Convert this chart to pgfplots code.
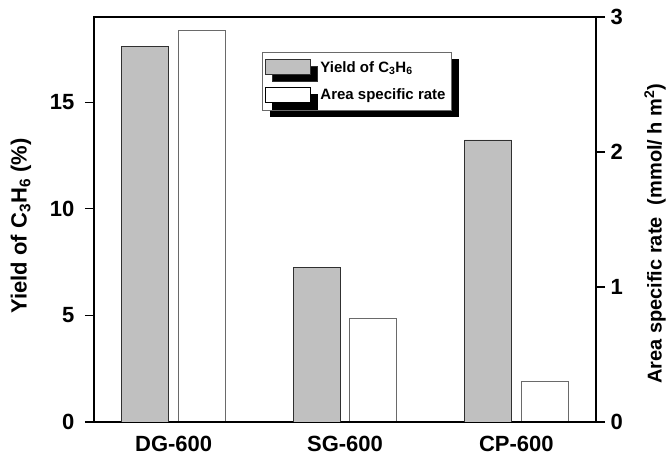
\documentclass[border=0pt]{standalone}
\usepackage{fontspec}
\setmainfont{Liberation Sans}
\usepackage{pgfplots}
\pgfplotsset{compat=1.18}
\usetikzlibrary{shadows}
\definecolor{bargray}{HTML}{C0C0C0}
\definecolor{edgedark}{HTML}{303030}
\definecolor{edgegray}{HTML}{6A6A6A}
\pgfplotsset{boxlegend/.style={legend image code/.code={\draw[##1] (0pt,-7.5pt) rectangle (45pt,7.5pt);}}}
\begin{document}
\begin{tikzpicture}
\pgfplotsset{
  common/.style={
    at={(0,0)}, anchor=south west,
    scale only axis, width=502pt, height=405pt,
    xmin=-0.465, xmax=2.465,
    tick align=outside, major tick length=9pt,
    axis line style={line width=1.4pt},
    every tick/.style={line width=1.2pt, black},
    /pgf/number format/assume math mode=true,
    tick label style={font=\fontsize{22}{22}\selectfont\bfseries},
  }
}
% right axis (area specific rate)
\begin{axis}[common,
  axis y line*=right, axis x line=none,
  ymin=0, ymax=3, ytick={0,1,2,3},
  yticklabel style={xshift=2pt},
  ylabel={Area specific rate\hspace{0.6em}(mmol/ h m\textsuperscript{2})},
  every axis y label/.style={at={(axis description cs:1.1175,0.465)}, rotate=90, anchor=center,
    font=\fontsize{20}{20}\selectfont\bfseries},
]
\addplot[ybar, bar width=0.274, fill=white, draw=edgegray, line width=0.9pt]
  coordinates {(0.165,2.90) (1.165,0.77) (2.165,0.30)};
\end{axis}
% left axis (yield)
\begin{axis}[common,
  ymin=0, ymax=19, ytick={0,5,10,15}, ytick pos=left,
  yticklabel style={xshift=-7pt},
  xtick={0,1,2}, xticklabels={DG-600,SG-600,CP-600},
  x tick style={draw=none}, major x tick style={draw=none},
  xticklabel style={yshift=-2pt},
  ylabel={Yield of C\textsubscript{3}H\textsubscript{6} (\%)},
  every axis y label/.style={at={(axis description cs:-0.1454,0.484)}, rotate=90, anchor=center,
    font=\fontsize{22}{22}\selectfont\bfseries},
  legend style={at={(rel axis cs:0.335,0.914)}, anchor=north west,
    draw=edgegray, line width=0.8pt, fill=white,
    font=\fontsize{15}{15}\selectfont\bfseries,
    drop shadow={shadow xshift=7pt, shadow yshift=-7pt, fill=black, opacity=1},
    inner xsep=2pt, inner ysep=7pt, row sep=11pt, column sep=8pt},
  legend cell align=left,
]
\addplot[ybar, bar width=0.274, fill=bargray, draw=edgedark, line width=0.9pt, boxlegend]
  coordinates {(-0.165,17.6) (0.835,7.27) (1.835,13.23)};
\addlegendentry{Yield of C\textsubscript{3}H\textsubscript{6}}
\addlegendimage{fill=white, draw=black, line width=0.9pt, boxlegend}
\addlegendentry{Area specific rate\hspace*{2pt}}
\end{axis}
\path (-94pt,-31pt) rectangle (576pt,422pt);
\end{tikzpicture}
\end{document}
